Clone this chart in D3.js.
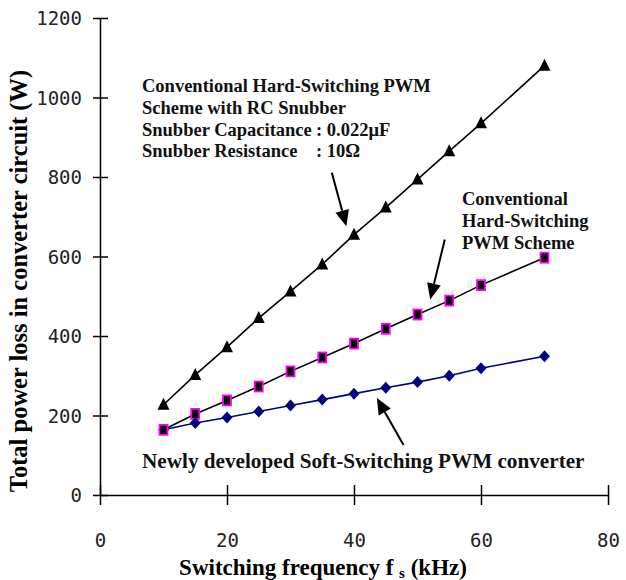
<!DOCTYPE html>
<html>
<head>
<meta charset="utf-8">
<script src="https://cdn.jsdelivr.net/npm/d3@7"></script>
<style>
  body { margin: 0; background: #fff; }
  .tick text { font-family: "DejaVu Sans Mono", monospace; }
  .lbl { font-family: "Liberation Serif", "Times New Roman", serif; font-weight: bold; }
</style>
</head>
<body>
<svg id="chart" width="626" height="580"></svg>
<script>
// switching frequency (kHz)
var freq = [10, 15, 20, 25, 30, 35, 40, 45, 50, 55, 60, 70];
// hard-switching with RC snubber
var lossSnubber = [227, 302, 372, 445, 512, 580, 655, 723, 794, 865, 935, 1080];
// conventional hard-switching
var lossHard = [164, 204, 238, 273, 311, 346, 381, 418, 454, 489, 528, 597];
// newly developed soft-switching
var lossSoft = [164, 181, 195, 210, 225, 240, 255, 270, 284, 300, 319, 349];
var xTicks = [0, 20, 40, 60, 80];
var yTicks = [0, 200, 400, 600, 800, 1000, 1200];

var svg = d3.select('#chart');
var margin = {top: 18, right: 18, bottom: 85, left: 100};
var width = 626, height = 580;

var x = d3.scaleLinear().domain([0, 80]).range([margin.left, width - margin.right]);
var y = d3.scaleLinear().domain([0, 1200]).range([height - margin.bottom, margin.top]);

// axes (ticks cross the axis line)
var xAxis = svg.append('g')
    .attr('transform', 'translate(0,' + y(0) + ')')
    .call(d3.axisBottom(x).tickValues(xTicks).tickFormat(d3.format('d')).tickSize(0).tickPadding(0));
xAxis.select('.domain').attr('stroke', '#000').attr('stroke-width', 1.5);
xAxis.selectAll('.tick line').attr('y1', -10).attr('y2', 10).attr('stroke-width', 1.5);
xAxis.selectAll('.tick text').attr('y', 52).attr('dy', 0).attr('font-size', 19).attr('fill', '#222');

var yAxis = svg.append('g')
    .attr('transform', 'translate(' + x(0) + ',0)')
    .call(d3.axisLeft(y).tickValues(yTicks).tickFormat(d3.format('d')).tickSize(0).tickPadding(0));
yAxis.select('.domain').attr('stroke', '#000').attr('stroke-width', 1.5);
yAxis.selectAll('.tick line').attr('x1', -7).attr('x2', 8).attr('stroke-width', 1.5);
yAxis.selectAll('.tick text').attr('x', -18).attr('dy', '0.36em').attr('font-size', 19).attr('fill', '#222');

// axis titles
svg.append('text').attr('class', 'lbl')
    .attr('x', 323).attr('y', 575)
    .attr('text-anchor', 'middle').attr('font-size', 23)
    .html('Switching frequency f <tspan font-size="15" dy="3">s</tspan><tspan dy="-3"> (kHz)</tspan>');

svg.append('text').attr('class', 'lbl')
    .attr('transform', 'translate(27,281) rotate(-90)')
    .attr('text-anchor', 'middle').attr('font-size', 24.5)
    .text('Total power loss in converter circuit (W)');

// lines
var line = function(vals) {
    return d3.line()
        .x(function(d, i) { return x(freq[i]); })
        .y(function(d) { return y(d); })(vals);
};

svg.append('path').attr('d', line(lossSnubber)).attr('fill', 'none').attr('stroke', '#000').attr('stroke-width', 1.6);
svg.append('path').attr('d', line(lossHard)).attr('fill', 'none').attr('stroke', '#000').attr('stroke-width', 1.6);
svg.append('path').attr('d', line(lossSoft)).attr('fill', 'none').attr('stroke', '#000080').attr('stroke-width', 1.6);

// markers
svg.selectAll('path.tri').data(lossSnubber).enter().append('path')
    .attr('class', 'tri')
    .attr('d', function(d, i) {
        var cx = x(freq[i]), cy = y(d);
        return 'M' + cx + ',' + (cy - 7) + 'L' + (cx + 6) + ',' + (cy + 5) + 'L' + (cx - 6) + ',' + (cy + 5) + 'Z';
    })
    .attr('fill', '#000');

svg.selectAll('rect.sq').data(lossHard).enter().append('rect')
    .attr('class', 'sq')
    .attr('x', function(d, i) { return x(freq[i]) - 4; })
    .attr('y', function(d) { return y(d) - 5; })
    .attr('width', 8).attr('height', 10)
    .attr('fill', '#000').attr('stroke', '#ff00ff').attr('stroke-width', 1.8);

svg.selectAll('path.dia').data(lossSoft).enter().append('path')
    .attr('class', 'dia')
    .attr('d', function(d, i) {
        var cx = x(freq[i]), cy = y(d);
        return 'M' + cx + ',' + (cy - 6) + 'L' + (cx + 5.5) + ',' + cy + 'L' + cx + ',' + (cy + 6) + 'L' + (cx - 5.5) + ',' + cy + 'Z';
    })
    .attr('fill', '#000080');
// first square sits on top of the diamonds
svg.select('rect.sq').raise();

// annotation arrows (data units: kHz, W)
var arrows = [
    {x1: 36.5, y1: 811, x2: 38.8, y2: 676},
    {x1: 54.3, y1: 643, x2: 52.0, y2: 492},
    {x1: 47.8, y1: 126, x2: 43.6, y2: 244}
];
arrows.forEach(function(a) {
    var sx = x(a.x1), sy = y(a.y1), ex = x(a.x2), ey = y(a.y2);
    var ang = Math.atan2(ey - sy, ex - sx);
    var L = 16, W = 7;
    var bx = ex - L * Math.cos(ang), by = ey - L * Math.sin(ang);
    svg.append('line').attr('x1', sx).attr('y1', sy).attr('x2', bx).attr('y2', by)
        .attr('stroke', '#000').attr('stroke-width', 2);
    var px = -Math.sin(ang), py = Math.cos(ang);
    svg.append('path')
        .attr('d', 'M' + ex + ',' + ey + 'L' + (bx + W * px) + ',' + (by + W * py) + 'L' + (bx - W * px) + ',' + (by - W * py) + 'Z')
        .attr('fill', '#000');
});

// annotation texts
var t1 = svg.append('text').attr('class', 'lbl').attr('font-size', 18.5).attr('fill', '#111');
t1.append('tspan').attr('x', 142).attr('y', 92).text('Conventional Hard-Switching PWM');
t1.append('tspan').attr('x', 142).attr('y', 114).text('Scheme with RC Snubber');
t1.append('tspan').attr('x', 142).attr('y', 136).text('Snubber Capacitance');
t1.append('tspan').attr('x', 316).attr('y', 136).text(': 0.022μF');
t1.append('tspan').attr('x', 142).attr('y', 157).text('Snubber Resistance');
t1.append('tspan').attr('x', 316).attr('y', 157).text(': 10Ω');

var t2 = svg.append('text').attr('class', 'lbl').attr('font-size', 18.5).attr('fill', '#111');
t2.append('tspan').attr('x', 462).attr('y', 205).text('Conventional');
t2.append('tspan').attr('x', 462).attr('y', 227).text('Hard-Switching');
t2.append('tspan').attr('x', 462).attr('y', 249).text('PWM Scheme');

svg.append('text').attr('class', 'lbl').attr('font-size', 21.2).attr('fill', '#111')
    .attr('x', 142).attr('y', 468)
    .text('Newly developed Soft-Switching PWM converter');
</script>
</body>
</html>
